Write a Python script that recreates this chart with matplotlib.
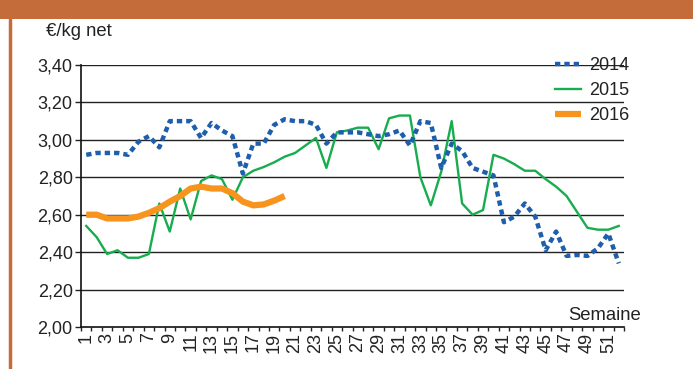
import matplotlib
matplotlib.use("Agg")
import matplotlib.pyplot as plt
from matplotlib.ticker import FuncFormatter, FixedLocator
from matplotlib.patches import Rectangle
from matplotlib.lines import Line2D

plt.rcParams['font.family'] = ['Liberation Sans', 'DejaVu Sans']

weeks = list(range(1, 53))
prix_2014 = [2.92, 2.93, 2.93, 2.93, 2.92, 2.99, 3.02, 2.96, 3.10, 3.10,
             3.10, 3.01, 3.09, 3.05, 3.02, 2.82, 2.98, 2.98, 3.08, 3.11,
             3.10, 3.10, 3.08, 2.98, 3.04, 3.04, 3.04, 3.03, 3.02, 3.03,
             3.05, 2.97, 3.10, 3.09, 2.85, 2.98, 2.94, 2.85, 2.83, 2.81,
             2.56, 2.59, 2.66, 2.59, 2.41, 2.51, 2.38, 2.385, 2.38, 2.42,
             2.50, 2.34]
prix_2015 = [2.54, 2.48, 2.39, 2.41, 2.37, 2.37, 2.39, 2.66, 2.51, 2.74,
             2.575, 2.78, 2.81, 2.79, 2.68, 2.80, 2.835, 2.855, 2.88, 2.91,
             2.93, 2.97, 3.01, 2.85, 3.04, 3.05, 3.065, 3.065, 2.95, 3.115,
             3.13, 3.13, 2.80, 2.65, 2.83, 3.10, 2.66, 2.60, 2.625, 2.92,
             2.90, 2.87, 2.835, 2.835, 2.79, 2.75, 2.70, 2.615, 2.53, 2.52,
             2.52, 2.54]
weeks_2016 = list(range(1, 21))
prix_2016 = [2.60, 2.60, 2.58, 2.58, 2.58, 2.59, 2.61, 2.635, 2.67, 2.70,
             2.74, 2.75, 2.74, 2.74, 2.715, 2.67, 2.65, 2.655, 2.675, 2.70]
labels = ['2014', '2015', '2016']
yticks = [2.0, 2.2, 2.4, 2.6, 2.8, 3.0, 3.2, 3.4]

W, H = 693, 369
fig = plt.figure(figsize=(W / 100, H / 100), dpi=100)
fig.patch.set_facecolor('white')

orange_frame = '#C46D3A'
fig.add_artist(Rectangle((0, 1 - 19 / H), 1, 19 / H, transform=fig.transFigure,
                         facecolor=orange_frame, edgecolor='none'))
fig.add_artist(Line2D([10 / W, 10 / W], [0, 1 - 19 / H], transform=fig.transFigure,
                      color=orange_frame, lw=2.5))

ax = fig.add_axes([81 / W, 42 / H, (624 - 81) / W, (327 - 65) / H])
ax.set_xlim(0.5, 52.5)
ax.set_ylim(2.0, 3.4)

for y in yticks[1:]:
    ax.axhline(y, color='#222222', lw=1.0, zorder=1)

c14 = '#1E5EAC'
c15 = '#17AD4E'
c16 = '#F7941D'
l14, = ax.plot(weeks, prix_2014, color=c14, lw=3.2, linestyle=(0, (1.2, 0.9)),
               dash_capstyle='butt', zorder=3)
l15, = ax.plot(weeks, prix_2015, color=c15, lw=1.7, zorder=2)
l16, = ax.plot(weeks_2016, prix_2016, color=c16, lw=4.5, solid_capstyle='butt', zorder=4)

ax.set_yticks(yticks)
ax.yaxis.set_major_formatter(FuncFormatter(lambda v, p: f"{v:.2f}".replace('.', ',')))
ax.tick_params(axis='y', length=4, width=1, labelsize=13, pad=2,
               color='#222222', labelcolor='#222222')

odd = [w for w in weeks if w % 2 == 1]
ax.set_xticks(odd)
ax.set_xticklabels([str(w) for w in odd], rotation=90, fontsize=13, color='#222222')
ax.xaxis.set_minor_locator(FixedLocator([w + 0.5 for w in range(0, 53)]))
ax.tick_params(axis='x', which='major', length=0, pad=4)
ax.tick_params(axis='x', which='minor', length=3, width=1, color='#222222')

for s in ['top', 'right']:
    ax.spines[s].set_visible(False)
for s in ['left', 'bottom']:
    ax.spines[s].set_color('#111111')
    ax.spines[s].set_linewidth(1.2)

fig.text(46 / W, 1 - 31 / H, '€/kg net', fontsize=13.3, va='center', ha='left', color='#222222')
fig.text(641 / W, 1 - 315 / H, 'Semaine', fontsize=13.3, va='center', ha='right', color='#222222')

leg = ax.legend([l14, l15, l16], labels, loc='upper left',
                bbox_to_anchor=(555 / W, 1 - 57 / H), bbox_transform=fig.transFigure,
                frameon=False, fontsize=13, handlelength=1.45, handletextpad=0.42,
                labelspacing=0.44, borderpad=0, borderaxespad=0)
for t in leg.get_texts():
    t.set_color('#222222')

fig.savefig('out.png', dpi=100, facecolor='white')
